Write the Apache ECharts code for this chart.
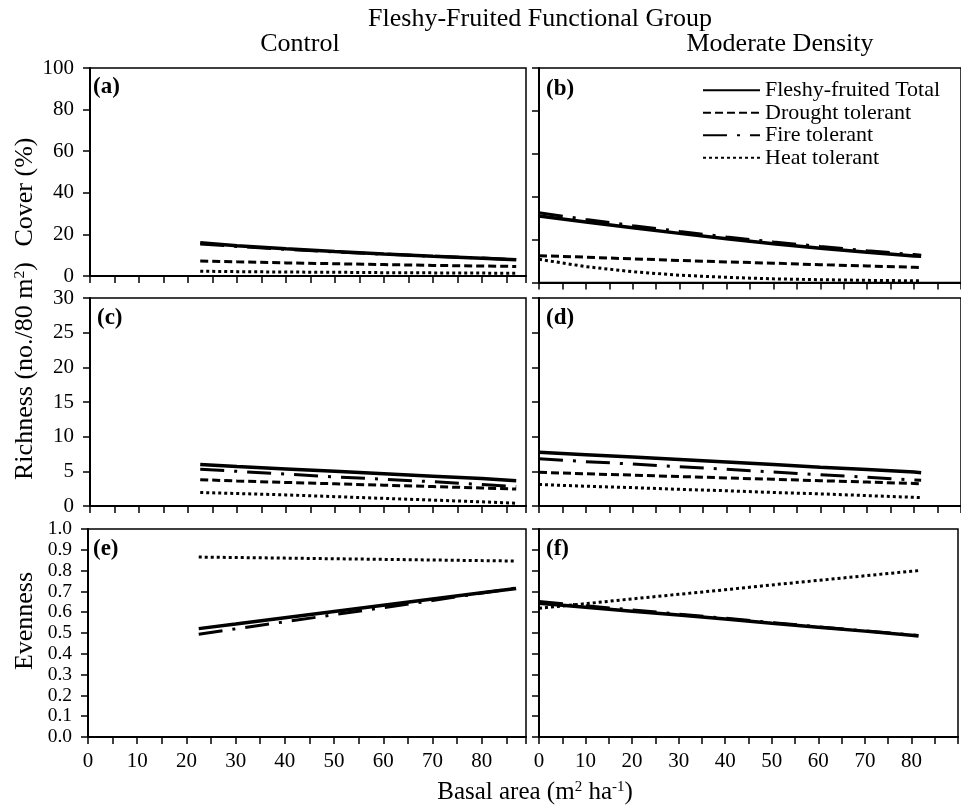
<!DOCTYPE html>
<html>
<head>
<meta charset="utf-8">
<script src="https://cdn.jsdelivr.net/npm/echarts@6/dist/echarts.min.js"></script>
<style>html,body{margin:0;padding:0;background:#fff}#c{width:961px;height:806px}</style>
</head>
<body>
<div id="c"></div>
<script>
// ---------------- DATA ----------------
const seriesNames = ['Fleshy-fruited Total', 'Drought tolerant', 'Fire tolerant', 'Heat tolerant'];

// basal area sample points
const controlX = [22.5, 30, 40, 50, 60, 70, 80, 87];
const moderateX = [0, 10, 20, 30, 40, 50, 60, 70, 80, 81.5];

// Cover (%) - Control (a)
const coverCtrlTotal   = [16.0, 14.6, 13.1, 11.8, 10.6, 9.5, 8.5, 7.8];
const coverCtrlDrought = [7.2, 6.8, 6.3, 5.9, 5.5, 5.1, 4.8, 4.6];
const coverCtrlFire    = [15.4, 14.2, 12.8, 11.6, 10.5, 9.5, 8.6, 7.9];
const coverCtrlHeat    = [2.3, 2.1, 1.9, 1.8, 1.6, 1.5, 1.4, 1.3];

// Cover (%) - Moderate Density (b)
const coverModTotal   = [31.0, 28.2, 25.5, 22.9, 20.4, 18.1, 16.0, 14.1, 12.4, 12.2];
const coverModDrought = [12.5, 11.8, 11.0, 10.3, 9.6, 9.0, 8.3, 7.7, 7.1, 7.0];
const coverModFire    = [32.5, 29.4, 26.5, 23.8, 21.2, 18.9, 16.8, 14.8, 13.0, 12.7];
const coverModHeat    = [10.8, 7.4, 5.0, 3.4, 2.4, 1.7, 1.3, 1.0, 0.8, 0.8];

// Richness (no./80 m2) - Control (c)
const richCtrlTotal   = [6.0, 5.7, 5.35, 5.0, 4.65, 4.3, 3.95, 3.65];
const richCtrlDrought = [3.8, 3.6, 3.4, 3.2, 3.0, 2.8, 2.6, 2.45];
const richCtrlFire    = [5.3, 5.0, 4.6, 4.2, 3.85, 3.5, 3.1, 2.8];
const richCtrlHeat    = [1.95, 1.8, 1.6, 1.35, 1.1, 0.85, 0.6, 0.4];

// Richness - Moderate Density (d)
const richModTotal   = [7.75, 7.4, 7.05, 6.7, 6.35, 6.0, 5.6, 5.25, 4.9, 4.8];
const richModDrought = [4.85, 4.65, 4.45, 4.25, 4.05, 3.85, 3.65, 3.45, 3.25, 3.2];
const richModFire    = [6.8, 6.4, 6.05, 5.65, 5.3, 4.9, 4.5, 4.15, 3.75, 3.7];
const richModHeat    = [3.1, 2.85, 2.65, 2.4, 2.2, 1.95, 1.75, 1.5, 1.25, 1.2];

// Evenness - Control (e)
const evenCtrlTotal = [0.521, 0.543, 0.573, 0.603, 0.633, 0.663, 0.693, 0.714];
const evenCtrlFire  = [0.494, 0.520, 0.554, 0.588, 0.622, 0.656, 0.692, 0.716];
const evenCtrlHeat  = [0.865, 0.863, 0.860, 0.857, 0.854, 0.851, 0.848, 0.846];

// Evenness - Moderate Density (f)
const evenModTotal = [0.643, 0.624, 0.605, 0.586, 0.567, 0.547, 0.528, 0.509, 0.489, 0.486];
const evenModFire  = [0.651, 0.631, 0.611, 0.591, 0.571, 0.550, 0.530, 0.510, 0.491, 0.488];
const evenModHeat  = [0.619, 0.641, 0.664, 0.686, 0.708, 0.731, 0.753, 0.775, 0.797, 0.800];

// y-axis tick settings
const coverTicks = {min: 0, max: 100, interval: 20};
const richTicks  = {min: 0, max: 30, interval: 5};
const evenTicks  = {min: 0, max: 1, interval: 0.1};

// ---------------- BUILD ----------------
const FONT = "'Liberation Serif', 'Times New Roman', serif";
const styles = {
  'Fleshy-fruited Total': {color: '#000', width: 3.5, type: 'solid'},
  'Drought tolerant':     {color: '#000', width: 3, type: [8, 4]},
  'Fire tolerant':        {color: '#000', width: 3, type: [24, 10, 3, 10]},
  'Heat tolerant':        {color: '#000', width: 3, type: [3, 3]}
};

const panels = [
  {grid: {left: 90, top: 68, width: 436, height: 208},  xmax: 89, y: coverTicks, left: true,  xlab: false,
   xs: controlX, data: [coverCtrlTotal, coverCtrlDrought, coverCtrlFire, coverCtrlHeat]},
  {grid: {left: 539, top: 68, width: 435, height: 214.5}, xmax: 90, y: coverTicks, left: false, xlab: false,
   xs: moderateX, data: [coverModTotal, coverModDrought, coverModFire, coverModHeat]},
  {grid: {left: 90, top: 298, width: 436, height: 208}, xmax: 89, y: richTicks, left: true,  xlab: false,
   xs: controlX, data: [richCtrlTotal, richCtrlDrought, richCtrlFire, richCtrlHeat]},
  {grid: {left: 539, top: 298, width: 435, height: 208}, xmax: 90, y: richTicks, left: false, xlab: false,
   xs: moderateX, data: [richModTotal, richModDrought, richModFire, richModHeat]},
  {grid: {left: 88, top: 529, width: 438, height: 208}, xmax: 89, y: evenTicks, left: true,  xlab: true,
   xs: controlX, data: [evenCtrlTotal, null, evenCtrlFire, evenCtrlHeat]},
  {grid: {left: 539, top: 529, width: 435, height: 208}, xmax: 90, y: evenTicks, left: false, xlab: true,
   xs: moderateX, data: [evenModTotal, null, evenModFire, evenModHeat]}
];

const grids = [], xAxes = [], yAxes = [], series = [];
panels.forEach((p, i) => {
  grids.push(Object.assign({show: true, borderColor: '#000', borderWidth: 1.5, containLabel: false}, p.grid));
  xAxes.push({
    type: 'value', gridIndex: i, min: 0, max: p.xmax, interval: 5,
    axisLine: {show: true, onZero: false, lineStyle: {color: '#000', width: 2}},
    axisTick: {show: true, inside: false, length: 7, lineStyle: {color: '#000', width: 1.5}},
    axisLabel: {show: p.xlab, margin: 14, fontSize: 21, fontFamily: FONT, color: '#000',
      interval: 0, showMinLabel: true, hideOverlap: false,
      formatter: v => (v % 10 === 0 && v <= 80) ? String(v) : ''},
    splitLine: {show: false}
  });
  const isEven = p.y === evenTicks;
  yAxes.push({
    type: 'value', gridIndex: i, min: p.y.min, max: p.y.max, interval: p.y.interval,
    axisLine: {show: true, lineStyle: {color: '#000', width: 2}},
    axisTick: {show: true, inside: false, length: 7, lineStyle: {color: '#000', width: 1.5}},
    axisLabel: {show: p.left, margin: 16, fontSize: isEven ? 19.5 : 21, lineHeight: 14, fontFamily: FONT, color: '#000',
      interval: 0, showMinLabel: true, showMaxLabel: true, hideOverlap: false,
      formatter: v => isEven ? Number(v).toFixed(1) : String(Math.round(v))},
    splitLine: {show: false}
  });
  seriesNames.forEach((name, k) => {
    const ys = p.data[k];
    if (!ys) return;
    series.push({
      type: 'line', name: name, xAxisIndex: i, yAxisIndex: i,
      data: p.xs.map((x, j) => [x, ys[j]]),
      symbol: 'none', showSymbol: false, smooth: false,
      lineStyle: styles[name], itemStyle: {color: '#000'},
      emphasis: {disabled: true}, silent: true,
      z: k === 0 ? 3 : 2
    });
  });
});

function txt(x, y, text, opts) {
  opts = opts || {};
  return {
    type: 'text', x: x, y: y, rotation: opts.rot || 0, silent: true,
    style: {
      text: text, fill: '#000', fontFamily: FONT, fontSize: opts.size || 26,
      fontWeight: opts.bold ? 'bold' : 'normal',
      textAlign: opts.align || 'center', textVerticalAlign: 'middle',
      rich: {
        sup: {fontSize: (opts.size || 26) * 0.6, fontFamily: FONT, verticalAlign: 'top', fill: '#000'},
        n: {fontSize: opts.size || 26, fontFamily: FONT, fill: '#000'}
      }
    }
  };
}

const graphics = [
  txt(540, 19, 'Fleshy-Fruited Functional Group', {size: 26}),
  txt(300, 44, 'Control', {size: 26}),
  txt(780, 44, 'Moderate Density', {size: 26}),
  txt(93, 87, '(a)', {size: 23, bold: true, align: 'left'}),
  txt(546, 89, '(b)', {size: 23, bold: true, align: 'left'}),
  txt(97, 318, '(c)', {size: 23, bold: true, align: 'left'}),
  txt(546, 318, '(d)', {size: 23, bold: true, align: 'left'}),
  txt(93, 549, '(e)', {size: 23, bold: true, align: 'left'}),
  txt(546, 549, '(f)', {size: 23, bold: true, align: 'left'}),
  txt(25, 192, 'Cover (%)', {size: 26, rot: Math.PI / 2}),
  txt(25, 371, '{n|Richness (no./80 m}{sup|2}{n|)}', {size: 26, rot: Math.PI / 2}),
  txt(25, 621, 'Evenness', {size: 26, rot: Math.PI / 2}),
  txt(535, 792, '{n|Basal area (m}{sup|2}{n| ha}{sup|-1}{n|)}', {size: 25})
];

const chart = echarts.init(document.getElementById('c'), null, {renderer: 'canvas'});
chart.setOption({
  animation: false,
  backgroundColor: '#fff',
  grid: grids,
  xAxis: xAxes,
  yAxis: yAxes,
  legend: {
    data: seriesNames, orient: 'vertical', left: 702, top: 79, padding: 0,
    itemWidth: 57, itemHeight: 16, itemGap: 0, selectedMode: false,
    itemStyle: {color: 'rgba(0,0,0,0)', borderWidth: 0, opacity: 0},
    textStyle: {fontSize: 22, fontFamily: FONT, color: '#000', lineHeight: 22.5}
  },
  graphic: graphics,
  series: series
});
</script>
</body>
</html>
